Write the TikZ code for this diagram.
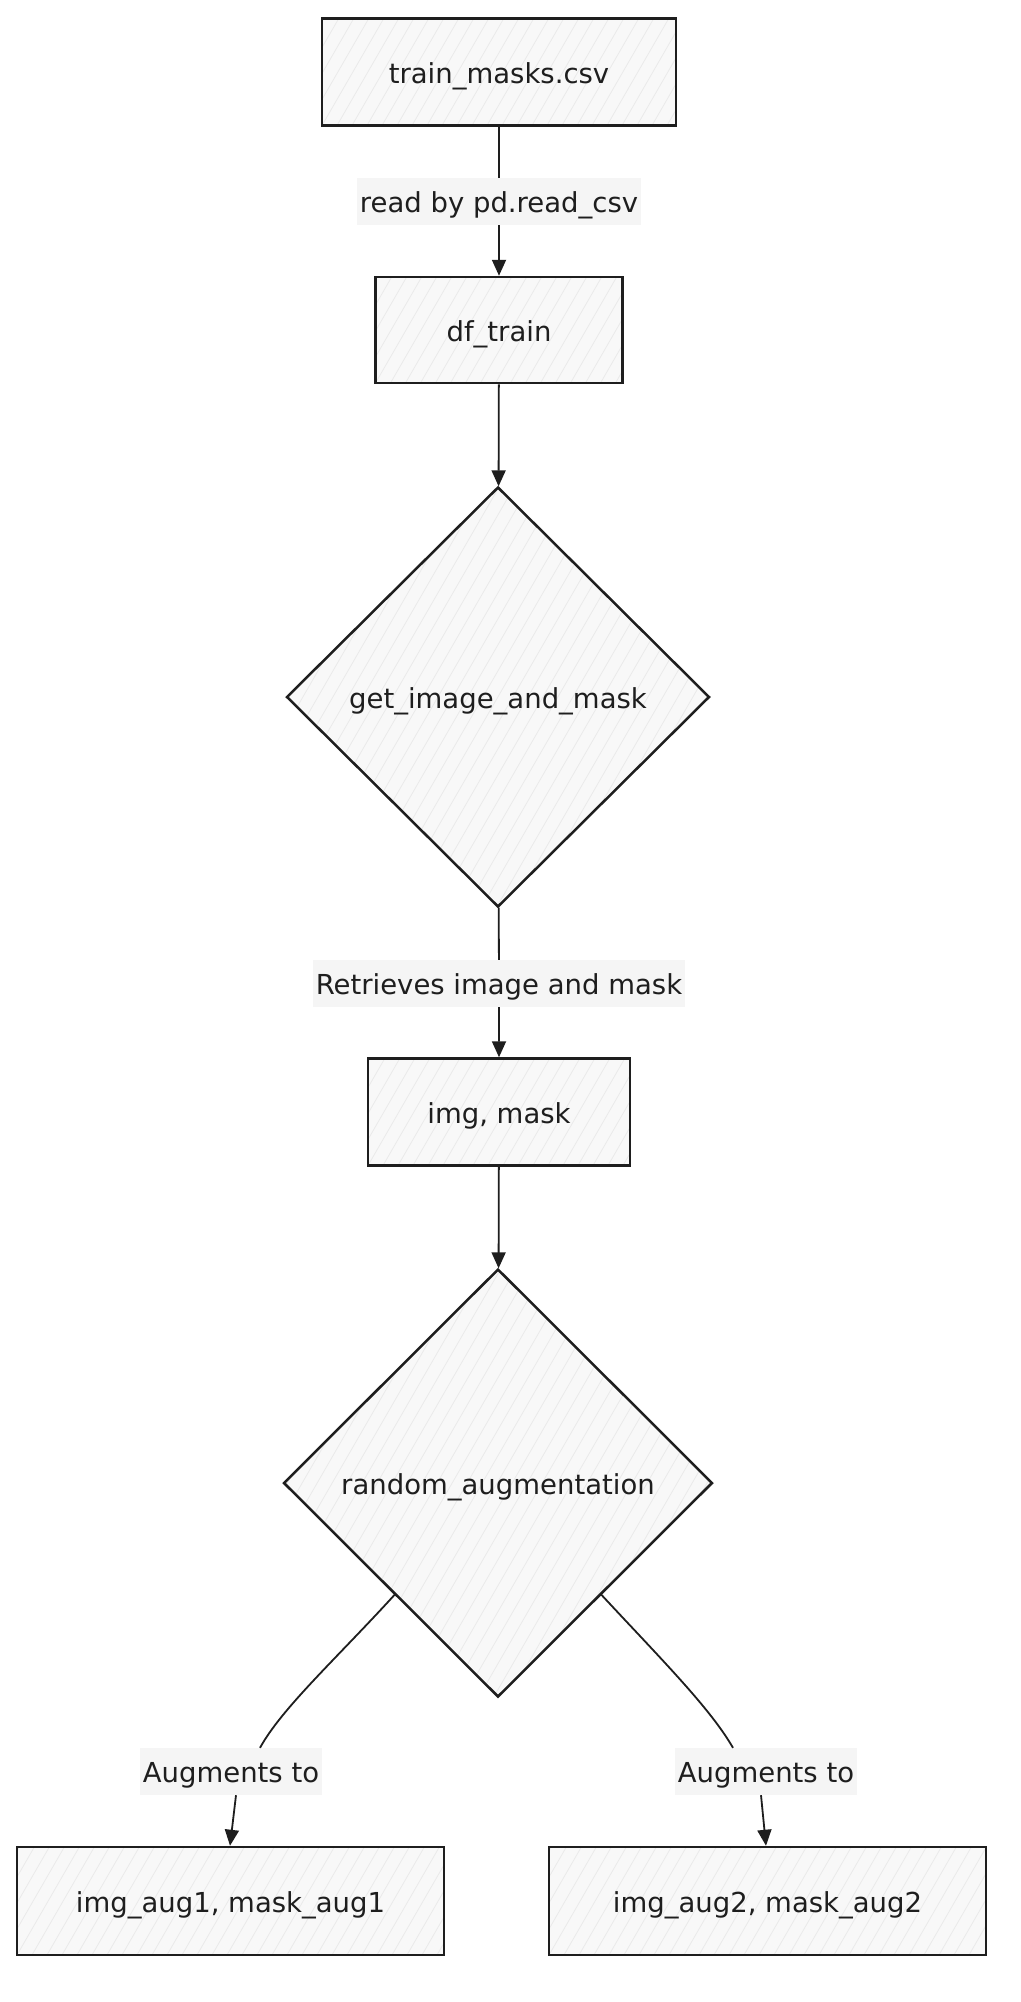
\documentclass[tikz,border=0pt]{standalone}
\usepackage{fontspec}
\setmainfont{DejaVu Sans}
\usetikzlibrary{shapes.geometric,arrows.meta,calc}
\definecolor{ink}{HTML}{1E1E1E}
\definecolor{boxfill}{HTML}{F8F8F8}
\definecolor{hatchc}{HTML}{EAEAEA}
\definecolor{labfill}{HTML}{F5F5F5}
\begin{document}
\begin{tikzpicture}[x=1pt,y=-1pt,font=\fontsize{27.5}{32}\selectfont,
  hatch/.style={path picture={\foreach \k in {-30,...,40}{\draw[hatchc,line width=0.8pt] ($(path picture bounding box.south west)+(\k*15,0)$) -- ++(300,-520);}}},
  box/.style={draw=ink,line width=2.5pt,fill=boxfill,rectangle,inner sep=0pt,hatch,text=ink,text height=24pt,text depth=2pt},
  dia/.style={draw=ink,line width=2.5pt,fill=boxfill,diamond,inner sep=0pt,hatch,text=ink,text height=24pt,text depth=2pt},
  lab/.style={fill=labfill,inner xsep=3pt,inner ysep=0pt,minimum height=47pt,text=ink,text height=24pt,text depth=2pt},
  conn/.style={draw=ink,line width=1.8pt,-{Triangle[length=16pt,width=14pt]}}]
\useasboundingbox (0,0) rectangle (1020,2002);
\fill[white] (0,0) rectangle (1020,2002);
% nodes
\node[box,minimum width=354pt,minimum height=107pt] (csv) at (499,72) {train\_masks.csv};
\node[box,minimum width=247pt,minimum height=106pt] (df) at (499,330) {df\_train};
\node[dia,minimum width=423pt,minimum height=420pt] (d1) at (498,697) {get\_image\_and\_mask};
\node[box,minimum width=262pt,minimum height=107pt] (im) at (499,1112) {img, mask};
\node[dia,minimum width=429pt,minimum height=428pt] (d2) at (498,1483) {random\_augmentation};
\node[box,minimum width=427pt,minimum height=108pt] (a1) at (230.5,1901) {img\_aug1, mask\_aug1};
\node[box,minimum width=437pt,minimum height=108pt] (a2) at (767.5,1901) {img\_aug2, mask\_aug2};
% labels
\node[lab] (l1) at (499,201.5) {read by pd.read\_csv};
\node[lab] (l2) at (499,983.5) {Retrieves image and mask};
\node[lab] (l3) at (231,1771.5) {Augments to};
\node[lab] (l4) at (766,1771.5) {Augments to};
% connectors
\coordinate (s3) at ($(d2.west)!0.52!(d2.south)$);
\coordinate (s4) at ($(d2.east)!0.52!(d2.south)$);
\draw[conn] (csv) -- (l1) -- (df);
\draw[conn] (df) -- (d1);
\draw[conn] (d1) -- (l2) -- (im);
\draw[conn] (im) -- (d2);
\draw[conn] (s3) .. controls (335,1660) and (282,1708) .. (l3.north -| 260,0) (l3.south -| 236,0) -- (a1.north -| 230,0);
\draw[conn] (s4) .. controls (662,1660) and (710,1708) .. (l4.north -| 733,0) (l4.south -| 761,0) -- (a2.north -| 766,0);
\end{tikzpicture}
\end{document}
